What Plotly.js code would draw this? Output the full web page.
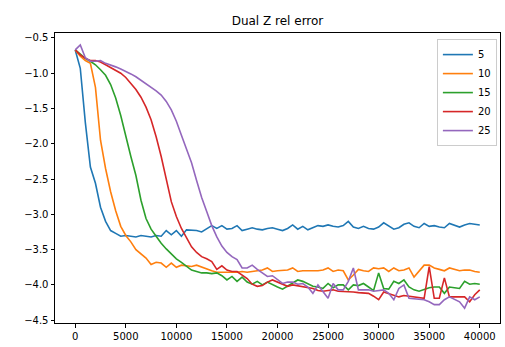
<!DOCTYPE html>
<html>
<head>
<meta charset="utf-8">
<script src="https://cdn.plot.ly/plotly-3.0.1.min.js"></script>
<style>html,body{margin:0;padding:0;background:#fff;}#chart{width:505px;height:347px;}</style>
</head>
<body>
<div id="chart"></div>
<script>
const steps = [0,500,1000,1500,2000,2500,3000,3500,4000,4500,5000,5500,6000,6500,7000,7500,8000,8500,9000,9500,
10000,10500,11000,11500,12000,12500,13000,13500,14000,14500,15000,15500,16000,16500,17000,17500,18000,18500,19000,19500,
20000,20500,21000,21500,22000,22500,23000,23500,24000,24500,25000,25500,26000,26500,27000,27500,28000,28500,29000,29500,
30000,30500,31000,31500,32000,32500,33000,33500,34000,34500,35000,35500,36000,36500,37000,37500,38000,38500,39000,39500,40000];

const seriesNames = ["5","10","15","20","25"];

const err5 = [-0.67,-0.93,-1.70,-2.33,-2.56,-2.90,-3.10,-3.23,-3.27,-3.31,-3.30,-3.31,-3.32,-3.30,-3.31,-3.32,-3.30,-3.31,-3.23,-3.29,
-3.23,-3.31,-3.22,-3.22,-3.23,-3.25,-3.21,-3.16,-3.20,-3.16,-3.21,-3.20,-3.16,-3.23,-3.21,-3.19,-3.21,-3.22,-3.20,-3.19,
-3.21,-3.23,-3.20,-3.15,-3.21,-3.17,-3.22,-3.19,-3.16,-3.17,-3.15,-3.17,-3.18,-3.16,-3.10,-3.18,-3.20,-3.17,-3.20,-3.21,
-3.18,-3.12,-3.17,-3.21,-3.19,-3.14,-3.12,-3.17,-3.19,-3.13,-3.17,-3.16,-3.18,-3.19,-3.13,-3.16,-3.18,-3.15,-3.13,-3.14,-3.15];

const err10 = [-0.67,-0.76,-0.82,-0.86,-1.20,-1.95,-2.35,-2.68,-2.95,-3.17,-3.30,-3.39,-3.50,-3.56,-3.62,-3.71,-3.68,-3.69,-3.75,-3.69,
-3.75,-3.72,-3.73,-3.74,-3.72,-3.75,-3.78,-3.80,-3.82,-3.82,-3.83,-3.82,-3.82,-3.81,-3.82,-3.81,-3.80,-3.79,-3.76,-3.81,
-3.80,-3.79,-3.79,-3.76,-3.81,-3.80,-3.80,-3.81,-3.80,-3.79,-3.76,-3.81,-3.79,-3.80,-3.93,-3.86,-3.78,-3.80,-3.81,-3.76,
-3.77,-3.76,-3.81,-3.76,-3.80,-3.79,-3.76,-3.89,-3.81,-3.72,-3.72,-3.76,-3.78,-3.80,-3.76,-3.78,-3.80,-3.79,-3.79,-3.81,-3.82];

const err15 = [-0.67,-0.73,-0.79,-0.83,-0.88,-0.95,-1.03,-1.16,-1.35,-1.60,-1.90,-2.18,-2.45,-2.80,-3.06,-3.21,-3.31,-3.41,-3.49,-3.56,
-3.63,-3.68,-3.74,-3.79,-3.81,-3.83,-3.83,-3.84,-3.83,-3.87,-3.93,-3.88,-3.95,-3.89,-3.96,-3.99,-3.95,-4.00,-3.96,-4.00,
-4.03,-4.06,-4.02,-3.98,-3.93,-3.95,-3.98,-4.02,-4.03,-4.05,-3.98,-4.04,-4.00,-4.00,-4.07,-4.00,-4.01,-3.98,-4.03,-4.08,
-3.83,-4.05,-4.06,-3.95,-3.98,-3.93,-4.03,-4.07,-4.09,-4.06,-4.04,-4.03,-4.03,-4.12,-4.03,-4.04,-4.05,-3.95,-3.99,-3.98,-3.99];

const err20 = [-0.67,-0.74,-0.79,-0.82,-0.82,-0.84,-0.88,-0.92,-0.95,-1.00,-1.06,-1.14,-1.23,-1.34,-1.48,-1.66,-1.90,-2.18,-2.50,-2.82,
-3.03,-3.20,-3.33,-3.46,-3.54,-3.60,-3.63,-3.67,-3.78,-3.73,-3.79,-3.81,-3.81,-3.86,-3.91,-3.99,-4.02,-4.01,-3.96,-3.93,
-3.96,-3.99,-4.02,-4.00,-4.01,-4.03,-4.04,-4.05,-4.08,-4.09,-4.08,-4.07,-4.09,-4.09,-4.09,-4.10,-4.11,-4.11,-4.12,-4.16,
-4.21,-4.10,-4.12,-4.15,-4.17,-4.15,-4.16,-4.17,-4.19,-4.19,-3.74,-4.19,-4.19,-3.90,-4.17,-4.17,-4.18,-4.17,-4.24,-4.14,-4.07];

const err25 = [-0.67,-0.60,-0.78,-0.83,-0.83,-0.82,-0.86,-0.88,-0.91,-0.94,-0.97,-1.01,-1.05,-1.10,-1.15,-1.19,-1.25,-1.31,-1.40,-1.52,
-1.68,-1.88,-2.08,-2.27,-2.52,-2.76,-2.96,-3.16,-3.32,-3.45,-3.54,-3.60,-3.64,-3.76,-3.76,-3.72,-3.78,-3.83,-3.88,-3.87,
-3.93,-3.98,-3.96,-3.96,-3.99,-3.98,-4.03,-4.12,-4.00,-4.10,-4.19,-3.98,-4.07,-4.07,-3.95,-3.76,-4.07,-4.07,-4.07,-4.09,
-4.08,-4.07,-4.12,-4.21,-4.05,-4.00,-4.19,-4.20,-4.21,-4.21,-4.24,-4.28,-4.28,-4.21,-4.17,-4.20,-4.24,-4.33,-4.17,-4.21,-4.17];

const xTicks = [0,5000,10000,15000,20000,25000,30000,35000,40000];
const yTicks = [-0.5,-1.0,-1.5,-2.0,-2.5,-3.0,-3.5,-4.0,-4.5];

const allSeries = [err5, err10, err15, err20, err25];
const colors = ["#1f77b4","#ff7f0e","#2ca02c","#d62728","#9467bd"];

const traces = allSeries.map((ys, i) => ({
  x: steps, y: ys, type: "scatter", mode: "lines", name: seriesNames[i],
  line: {color: colors[i], width: 1.6}
}));

const axisCommon = {
  showgrid: false, zeroline: false, showline: true, mirror: true,
  linecolor: "#000", linewidth: 1, ticks: "outside", ticklen: 3.5, tickwidth: 1,
  tickcolor: "#000", tickfont: {family: "DejaVu Sans", size: 10, color: "#000"}
};

const layout = {
  width: 505, height: 347,
  margin: {l: 55, r: 5, t: 33, b: 24, pad: 0},
  paper_bgcolor: "#fff", plot_bgcolor: "#fff",
  font: {family: "DejaVu Sans", size: 10, color: "#000"},
  title: {text: "Dual Z rel error", font: {family: "DejaVu Sans", size: 12, color: "#000"},
          x: 0.5495, xanchor: "center", y: 1 - 21/347, yanchor: "middle"},
  xaxis: Object.assign({}, axisCommon, {range: [-2000, 42000], tickvals: xTicks, tickformat: "d"}),
  yaxis: Object.assign({}, axisCommon, {range: [-4.54, -0.43], tickvals: yTicks, tickformat: ".1f"}),
  showlegend: true,
  legend: {x: 0.993, xanchor: "right", y: 0.979, yanchor: "top",
           bgcolor: "rgba(255,255,255,0.8)", bordercolor: "#cccccc", borderwidth: 1,
           font: {family: "DejaVu Sans", size: 10, color: "#000"}}
};

Plotly.newPlot("chart", traces, layout, {staticPlot: true, displayModeBar: false});
</script>
</body>
</html>
